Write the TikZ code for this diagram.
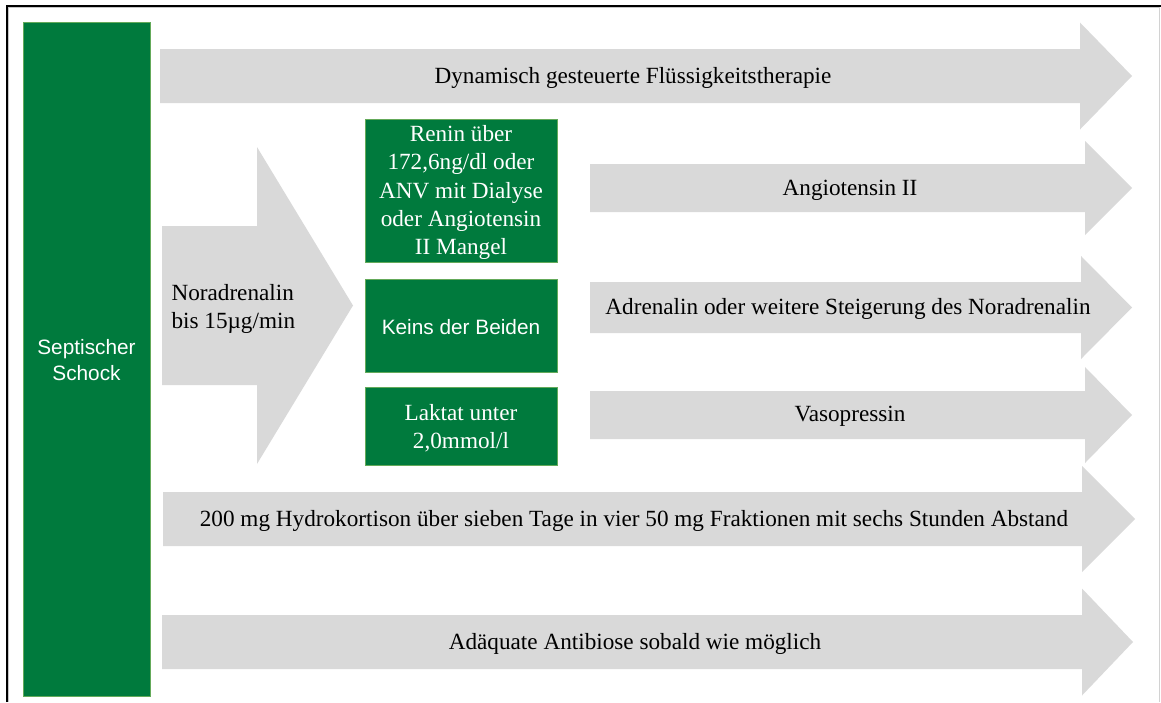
\documentclass[tikz,border=0pt]{standalone}
\usepackage{fontspec}
\setmainfont{Liberation Serif}
\setsansfont{Liberation Sans}
\usepackage{tikz}
\usetikzlibrary{positioning,calc}

\definecolor{schockgruen}{RGB}{0,122,61}
\definecolor{randgruen}{RGB}{100,170,90}
\definecolor{pfeilgrau}{RGB}{217,217,217}

\tikzset{
    gruenbox/.style={fill=schockgruen, draw=randgruen, line width=0.8pt},
    pfeiltext/.style={font=\fontsize{23.2}{28}\selectfont, text=black, align=center},
    boxtext/.style={font=\fontsize{23.2}{28.2}\selectfont, text=white, align=center},
    sanstext/.style={font=\sffamily\fontsize{20.8}{26.5}\selectfont, text=white, align=center}
}

% grauer Blockpfeil: x-Anfang, x-Spitzenansatz, x-Spitze, y-Mitte, halbe Schaftbreite, halbe Kopfbreite
\newcommand{\grauPfeil}[6]{%
    \fill[pfeilgrau] ({#1},{#4-#5}) -- ({#2},{#4-#5}) -- ({#2},{#4-#6}) -- ({#3},{#4})
        -- ({#2},{#4+#6}) -- ({#2},{#4+#5}) -- ({#1},{#4+#5}) -- cycle;%
}

\begin{document}
\begin{tikzpicture}[x=1pt, y=-1pt]
    \useasboundingbox (0,0) rectangle (1161,702);

    % Rahmen
    \draw[gray!45, line width=1pt] (8.8,702) -- (8.8,7.8) -- (1159,7.8);
    \draw[black, line width=1.6pt] (7,702) -- (7,6) -- (1161,6);
    \draw[gray!35, line width=0.8pt] (1159,7) -- (1159,702);

    % Septischer Schock
    \draw[gruenbox] (23,22) rectangle (150,696);
    \node[sanstext] (schock) at (86.5,360) {Septischer\\Schock};

    % Pfeile
    \grauPfeil{160}{1080}{1132}{76}{27}{53.5}
    \grauPfeil{162}{257}{353}{305.5}{79.5}{158.5}
    \grauPfeil{590}{1085}{1132}{188}{24}{47}
    \grauPfeil{590}{1081}{1132}{307.5}{25.5}{51.5}
    \grauPfeil{590}{1085}{1132}{415}{24}{48}
    \grauPfeil{163}{1082}{1135}{519}{27}{53}
    \grauPfeil{162}{1082}{1133}{642}{27}{53.5}

    % Bedingungen
    \draw[gruenbox] (365,119) rectangle (557,262);
    \draw[gruenbox] (365,279) rectangle (557,372);
    \draw[gruenbox] (365,387) rectangle (557,465);

    % Beschriftungen
    \node[pfeiltext] (fluessig) at (633,78) {Dynamisch gesteuerte Flüssigkeitstherapie};
    \node[pfeiltext, align=left, anchor=west] (nora) at (168,309) {Noradrenalin\\bis 15µg/min};
    \node[boxtext] (renin) at (461,192.5) {Renin über\\172,6ng/dl oder\\ANV mit Dialyse\\oder Angiotensin\\II Mangel};
    \node[sanstext] (keins) at (461,327) {Keins der Beiden};
    \node[boxtext] (laktat) at (461,428) {Laktat unter\\2,0mmol/l};
    \node[pfeiltext] (angio) at (850,190) {Angiotensin II};
    \node[pfeiltext] (adren) at (848,309) {Adrenalin oder weitere Steigerung des Noradrenalin};
    \node[pfeiltext] (vaso) at (850,416) {Vasopressin};
    \node[pfeiltext] (hydro) at (634,521) {200 mg Hydrokortison über sieben Tage in vier 50 mg Fraktionen mit sechs Stunden Abstand};
    \node[pfeiltext] (antibiose) at (635,644) {Adäquate Antibiose sobald wie möglich};
\end{tikzpicture}
\end{document}
